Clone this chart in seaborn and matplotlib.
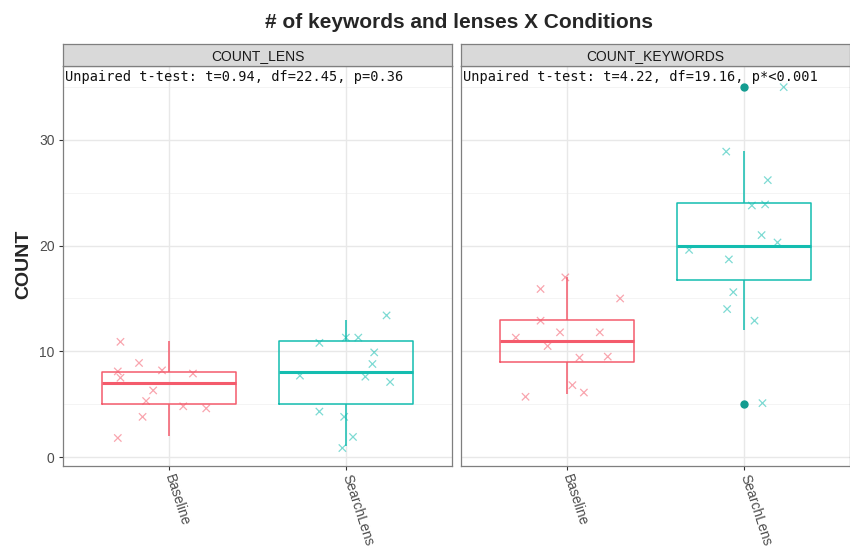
import numpy as np
import pandas as pd
import seaborn as sns
import matplotlib.pyplot as plt

# conditions / measures
conditions = ['Baseline', 'SearchLens']
measures = ['COUNT_LENS', 'COUNT_KEYWORDS']
ttest_labels = ['Unpaired t-test: t=0.94, df=22.45, p=0.36',
                'Unpaired t-test: t=4.22, df=19.16, p*<0.001']

# raw counts per participant (used for the boxes)
lens_baseline = [11, 9, 8, 8, 8, 8, 6, 5, 5, 5, 4, 2]
lens_searchlens = [13, 11, 11, 11, 10, 9, 8, 8, 7, 5, 4, 2, 1]
kw_baseline = [17, 16, 15, 13, 12, 12, 11, 11, 10, 9, 7, 6, 6]
kw_searchlens = [35, 29, 26, 24, 24, 21, 20, 20, 20, 19, 16, 14, 12, 5]

# jittered points as shown (horizontal offset from category, shown value)
lens_baseline_dx = [-0.275, -0.17, -0.04, 0.135, -0.29, -0.275, -0.09, -0.13, 0.08, 0.21, -0.15, -0.29]
lens_baseline_y = [10.9, 8.9, 8.2, 7.9, 8.1, 7.5, 6.3, 5.3, 4.8, 4.6, 3.8, 1.8]
lens_searchlens_dx = [0.23, 0.0, 0.07, -0.15, 0.16, 0.15, -0.26, 0.11, 0.25, -0.15, -0.01, 0.04, -0.02]
lens_searchlens_y = [13.4, 11.3, 11.3, 10.8, 9.9, 8.8, 7.7, 7.6, 7.1, 4.3, 3.8, 1.9, 0.85]
kw_baseline_dx = [-0.01, -0.15, 0.30, -0.15, -0.04, 0.185, -0.29, -0.11, 0.07, 0.23, 0.03, 0.095, -0.235]
kw_baseline_y = [17.0, 15.9, 15.0, 12.9, 11.8, 11.8, 11.3, 10.5, 9.4, 9.5, 6.8, 6.1, 5.7]
kw_searchlens_dx = [0.225, -0.10, 0.135, 0.045, 0.12, 0.10, 0.19, -0.31, -0.085, -0.06, -0.095, 0.06, 0.105]
kw_searchlens_y = [35.0, 28.9, 26.2, 23.8, 23.9, 21.0, 20.3, 19.6, 18.7, 15.6, 14.0, 12.9, 5.1]

palette = {'Baseline': '#F45B6C', 'SearchLens': '#14BDB0'}

def make_box_df(base, search):
    return pd.DataFrame({'Condition': ['Baseline'] * len(base) + ['SearchLens'] * len(search),
                         'COUNT': base + search})

def make_pts_df(bdx, by, sdx, sy):
    return pd.DataFrame({'Condition': ['Baseline'] * len(by) + ['SearchLens'] * len(sy),
                         'x': [0 + d for d in bdx] + [1 + d for d in sdx],
                         'COUNT': by + sy})

box_data = [make_box_df(lens_baseline, lens_searchlens),
            make_box_df(kw_baseline, kw_searchlens)]
pts_data = [make_pts_df(lens_baseline_dx, lens_baseline_y, lens_searchlens_dx, lens_searchlens_y),
            make_pts_df(kw_baseline_dx, kw_baseline_y, kw_searchlens_dx, kw_searchlens_y)]

sns.set_theme(style='white')
plt.rcParams['font.family'] = ['Liberation Sans', 'DejaVu Sans']

W, H = 850, 553
fig = plt.figure(figsize=(8.5, 5.53), dpi=100)

panel_left = [63, 461]
panel_w = 389
panel_top, panel_bot = 66, 466
strip_top = 44

for i, measure in enumerate(measures):
    ax = fig.add_axes([panel_left[i] / W, (H - panel_bot) / H, panel_w / W, (panel_bot - panel_top) / H])
    sax = fig.add_axes([panel_left[i] / W, (H - panel_top) / H, panel_w / W, (panel_top - strip_top) / H])

    # grid lines (theme_bw look)
    for v in [5, 15, 25, 35]:
        ax.axhline(v, color='#F2F2F2', lw=0.6, zorder=0)
    for v in [0, 10, 20, 30]:
        ax.axhline(v, color='#E8E8E8', lw=1.0, zorder=0)
    for v in [0, 1]:
        ax.axvline(v, color='#E8E8E8', lw=1.0, zorder=0)

    sns.boxplot(data=box_data[i], x='Condition', y='COUNT', hue='Condition', order=conditions,
                hue_order=conditions, palette=palette, fill=False, width=0.76, dodge=False,
                linewidth=1.1, showcaps=False, legend=False, ax=ax,
                medianprops=dict(linewidth=2.2),
                flierprops=dict(marker='o', markersize=5, markerfacecolor='#139C90',
                                markeredgecolor='#139C90'))

    sns.scatterplot(data=pts_data[i], x='x', y='COUNT', hue='Condition', hue_order=conditions,
                    palette=palette, marker='x', s=28, linewidth=0.9, alpha=0.55,
                    legend=False, ax=ax, zorder=3)

    ax.set_xlim(-0.6, 1.6)
    ax.set_ylim(-0.85, 37.0)
    ax.set_xticks([0, 1])
    ax.set_xticklabels(conditions, rotation=-72, ha='left', va='center',
                       rotation_mode='anchor', fontsize=10, color='#4D4D4D')
    ax.set_yticks([0, 10, 20, 30])
    if i == 0:
        ax.set_yticklabels(['0', '10', '20', '30'], fontsize=10, color='#4D4D4D')
    else:
        ax.set_yticklabels([])
    ax.tick_params(axis='both', length=3, width=0.8, color='#333333', pad=3,
                   left=(i == 0), bottom=True)
    ax.set_xlabel('')
    ax.set_ylabel('')
    for sp in ax.spines.values():
        sp.set_color('#7F7F7F')
        sp.set_linewidth(0.9)

    ax.text(0.006, 0.99, ttest_labels[i], transform=ax.transAxes, ha='left', va='top',
            family='DejaVu Sans Mono', fontsize=9.8, color='#111111')

    # facet strip
    sax.set_facecolor('#D9D9D9')
    sax.set_xticks([])
    sax.set_yticks([])
    for sp in sax.spines.values():
        sp.set_color('#7F7F7F')
        sp.set_linewidth(0.9)
    sax.text(0.5, 0.45, measure, transform=sax.transAxes, ha='center', va='center',
             family=['Liberation Sans Narrow', 'Liberation Sans'], fontsize=10, color='#1A1A1A')

fig.text(0.54, 1 - 22 / H, '# of keywords and lenses X Conditions', ha='center', va='center',
         family=['Liberation Sans Narrow', 'Liberation Sans'], fontsize=15, weight='bold')
fig.text(24 / W, 1 - 264 / H, 'COUNT', rotation=90, ha='center', va='center',
         family=['Liberation Sans Narrow', 'Liberation Sans'], fontsize=14, weight='bold')

fig.savefig('out.png', dpi=100)
